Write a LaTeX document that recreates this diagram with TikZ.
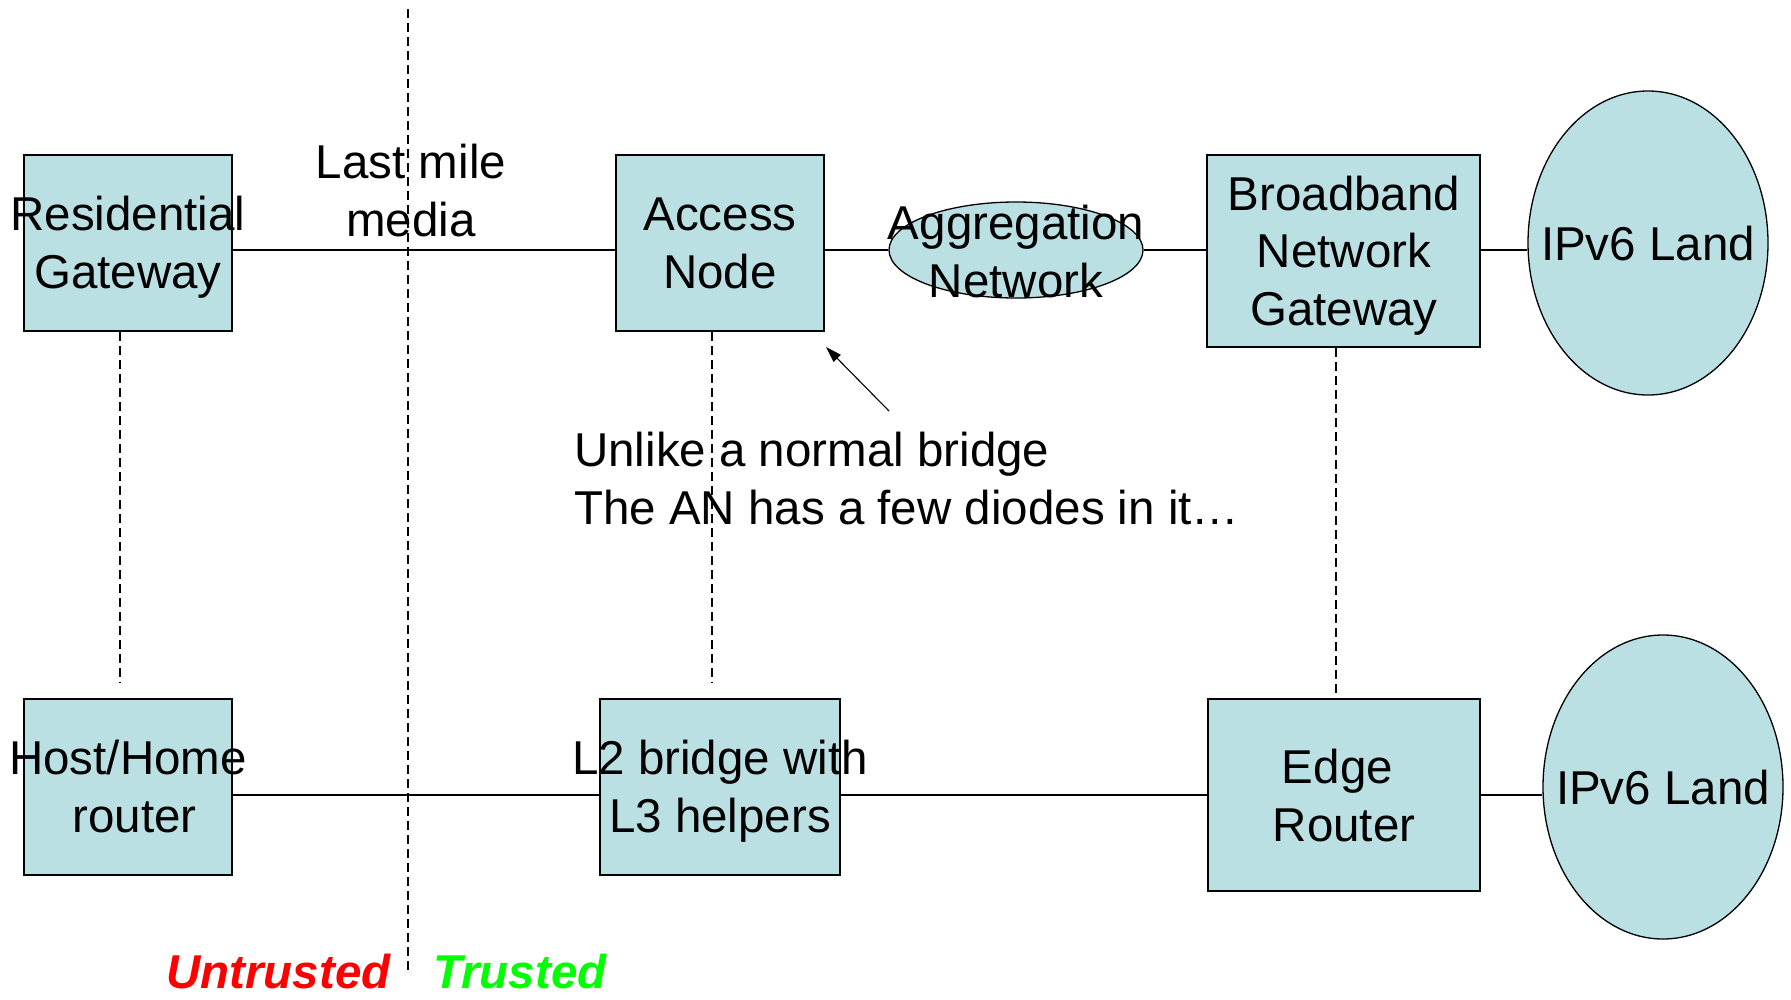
\documentclass[tikz,border=0pt]{standalone}
\usepackage{fontspec}
\setmainfont{Liberation Sans}
\usetikzlibrary{shapes.geometric,arrows.meta}
\definecolor{boxfill}{RGB}{187,224,227}
\definecolor{untr}{RGB}{255,0,0}
\definecolor{tr}{RGB}{0,255,0}
\begin{document}
\begin{tikzpicture}[x=1pt,y=-1pt,
  box/.style={draw, line width=1.8pt, fill=boxfill, rectangle, inner sep=0pt},
  cloud/.style={draw, line width=1.3pt, fill=boxfill, ellipse, inner sep=0pt},
  lbl/.style={anchor=base, align=center, inner sep=0pt, font=\fontsize{47.5}{57.5}\selectfont},
  link/.style={line width=1.4pt},
  guide/.style={line width=1.1pt, dash pattern=on 9pt off 5pt}]
\useasboundingbox (0,0) rectangle (1791,999);
% boxes
\node[box, minimum width=208pt, minimum height=176pt] (rg) at (128,243) {};
\node[box, minimum width=208pt, minimum height=176pt] (an) at (720,243) {};
\node[box, minimum width=273pt, minimum height=192pt] (bng) at (1343.5,251) {};
\node[box, minimum width=208pt, minimum height=176pt] (hh) at (128,787) {};
\node[box, minimum width=240pt, minimum height=176pt] (l2) at (720,787) {};
\node[box, minimum width=272pt, minimum height=192pt] (er) at (1344,795) {};
% clouds
\node[cloud, minimum width=254pt, minimum height=96pt] (agg) at (1016,250) {};
\node[cloud, minimum width=240pt, minimum height=304pt] (ipa) at (1648,243) {};
\node[cloud, minimum width=240pt, minimum height=304pt] (ipb) at (1663,787) {};
% links
\draw[link] (rg.east |- agg.center) -- (an.west |- agg.center);
\draw[link] (an.east |- agg.center) -- (agg.west);
\draw[link] (agg.east) -- (bng.west |- agg.center);
\draw[link] (bng.east |- agg.center) -- (ipa.west |- agg.center);
\draw[link] (hh.east |- er.center) -- (l2.west |- er.center);
\draw[link] (l2.east |- er.center) -- (er.west);
\draw[link] (er.east) -- (ipb.west |- er.center);
% dashed guides
\coordinate (topdiv) at (408,9);
\coordinate (botdiv) at (408,971);
\draw[guide] (topdiv) -- (botdiv);
\coordinate (rgd) at (120,683);
\draw[guide] (rgd |- rg.south) -- (rgd);
\coordinate (andash) at (712,683);
\draw[guide] (andash |- an.south) -- (andash);
\coordinate (bngd) at (1336,0);
\draw[guide] (bngd |- bng.south) -- (bngd |- er.north);
% arrow
\coordinate (arrtail) at (889,411);
\coordinate (arrtip) at (826,347);
\draw[line width=1.1pt, -{Triangle[length=16pt,width=10pt]}] (arrtail) -- (arrtip);
% texts (base = baseline of last line)
\node[lbl] (lmt) at (411,236) {Last mile\\media};
\node[lbl] (rgt) at (128,288) {Residential\\Gateway};
\node[lbl] (ant) at (720,288) {Access\\Node};
\node[lbl] (aggt) at (1016,297) {Aggregation\\Network};
\node[lbl] (bngt) at (1344,325) {Broadband\\Network\\Gateway};
\node[lbl] (ipat) at (1648,260) {IPv6 Land};
\node[lbl] (hht) at (128,832) {Host/Home\\\hspace*{0.278em}router};
\node[lbl] (l2t) at (720,832) {L2 bridge with\\L3 helpers};
\node[lbl] (ert) at (1344,841) {Edge\hphantom{\ }\\Router};
\node[lbl] (ipbt) at (1663,804) {IPv6 Land};
\node[lbl, anchor=base west, align=left] (note) at (574,524) {Unlike a normal bridge\\The AN has a few diodes in it…};
\node[lbl, anchor=base west, text=untr, font=\fontsize{47.5}{57.5}\selectfont\bfseries\itshape] (untt) at (166,988) {Untrusted};
\node[lbl, anchor=base west, text=tr, font=\fontsize{47.5}{57.5}\selectfont\bfseries\itshape] (trt) at (433,988) {Trusted};
\end{tikzpicture}
\end{document}
